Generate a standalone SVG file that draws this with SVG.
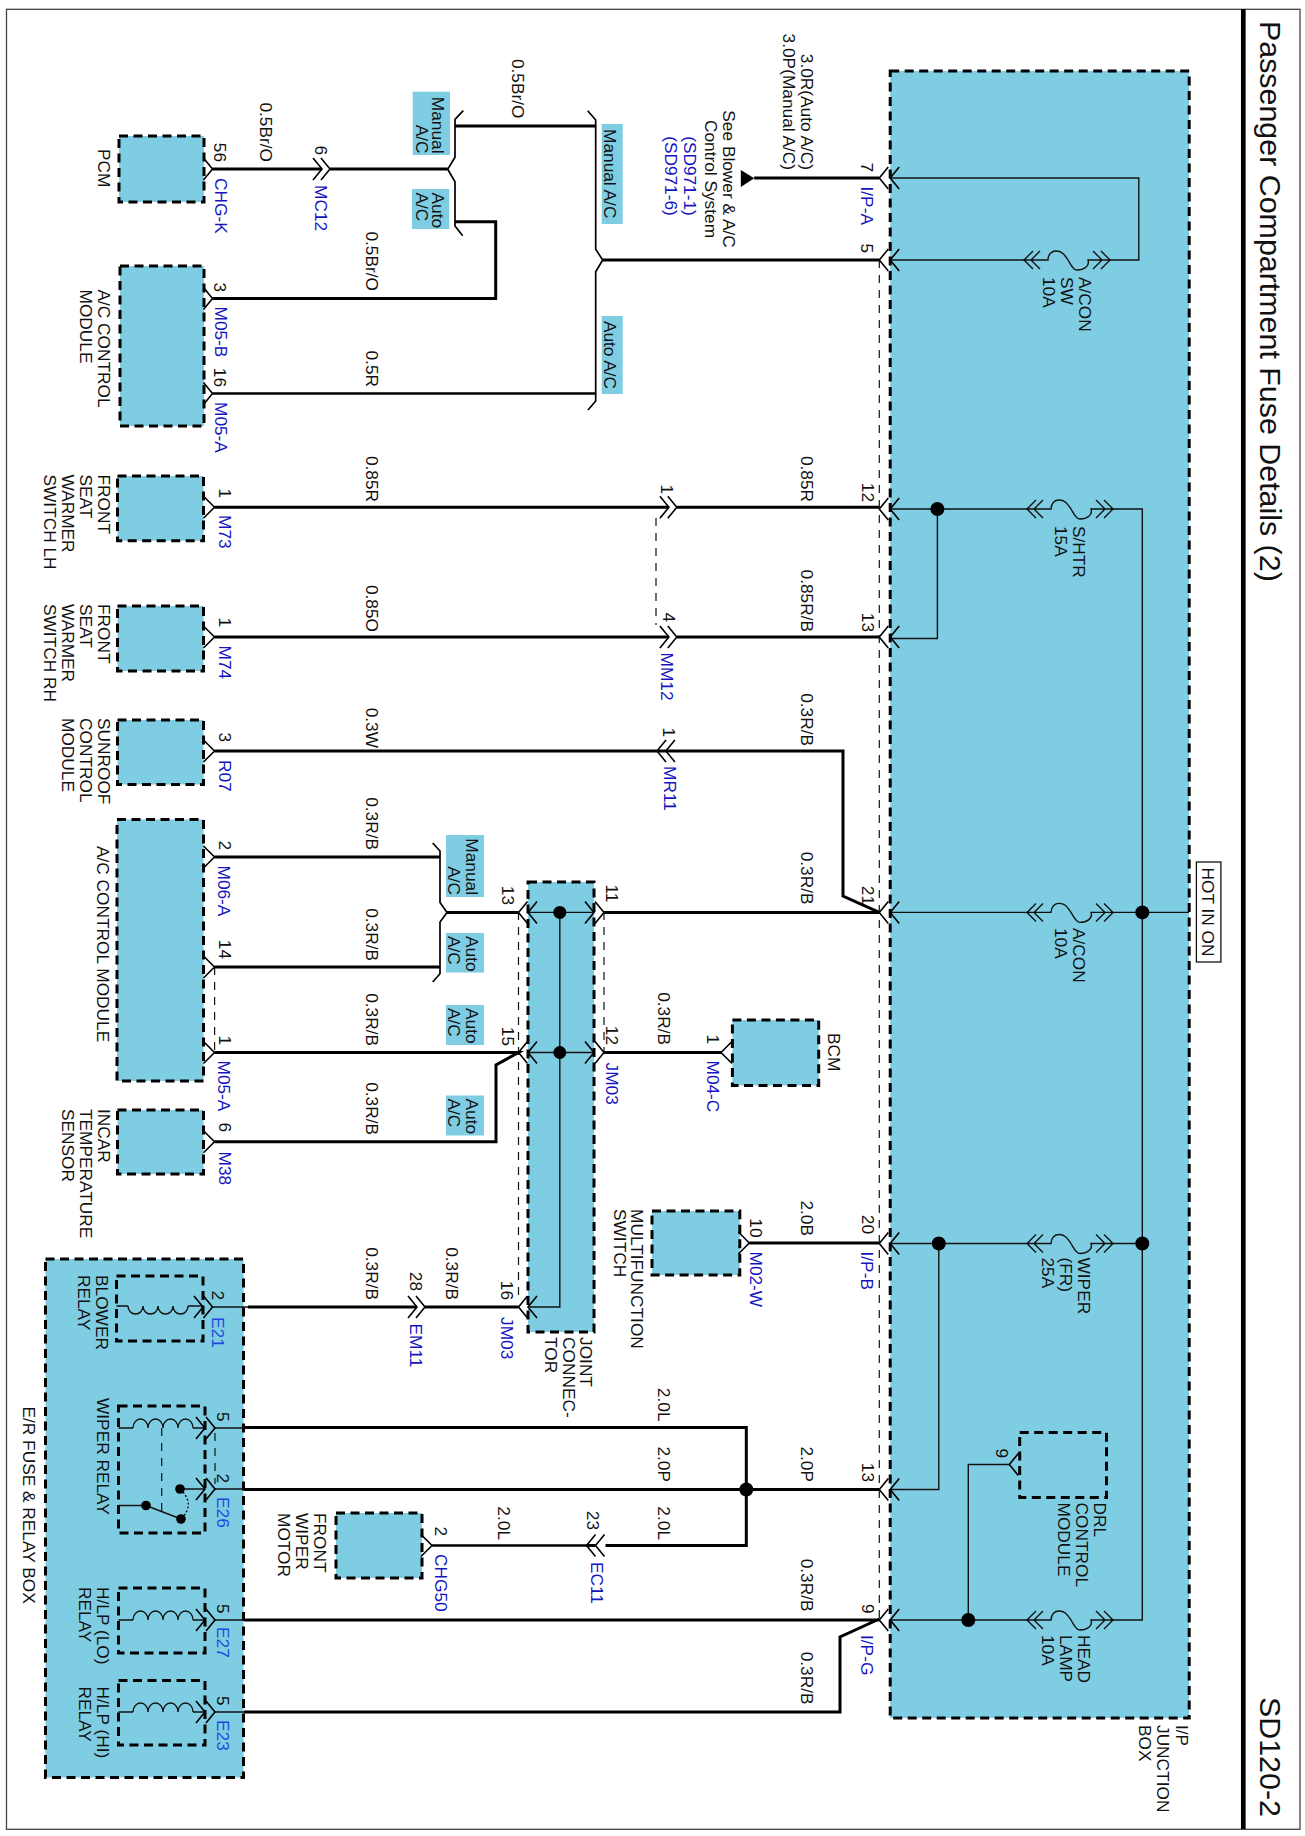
<svg xmlns="http://www.w3.org/2000/svg" width="1305" height="1836" viewBox="0 0 1305 1836">
<style>
text{font-family:"Liberation Sans",Arial,sans-serif;font-size:17.3px;fill:#111}
.b{fill:#1414c0}.e{text-anchor:end}.m{text-anchor:middle}
.bx{fill:#7fcde3;stroke:#000;stroke-width:3;stroke-dasharray:9 5.5}
.in{fill:none;stroke:#000;stroke-width:3;stroke-dasharray:9 5.5}
.lb{fill:#7fcde3}
.w{fill:none;stroke:#000;stroke-width:3}
.n{fill:none;stroke:#111;stroke-width:1.4}
.br{fill:none;stroke:#000;stroke-width:1.7}
.d{fill:none;stroke:#111;stroke-width:1.2;stroke-dasharray:8 7}
.c{fill:none;stroke:#000;stroke-width:1.6}
</style>
<defs>
<path id="r" class="c" d="M-9,-11L0,0L-9,11"/>
<path id="r2" class="c" d="M-11,-11L0,0L-11,11"/>
<path id="l" class="c" d="M9,-11L0,0L9,11"/>
<path id="l2" class="c" d="M11,-11L0,0L11,11"/>
<path id="f" class="n" d="M9,-9L0,0L9,9M16,-9L7,0L16,9M0,0H24C24,-6 28,-9 32,-9C39,-9 41,-4 44,0C47,5 49,10 53,10C60,10 66,6 64,0H86M69,-9L78,0L69,9M77,-9L86,0L77,9"/>
<path id="cu" class="n" d="M0,0a7.5,9 0 0 1 15,0a7.5,9 0 0 1 15,0a7.5,9 0 0 1 15,0a7.5,9 0 0 1 15,0"/>
<path id="cd" class="n" d="M0,0a7.5,8 0 0 0 15,0a7.5,8 0 0 0 15,0a7.5,8 0 0 0 15,0a7.5,8 0 0 0 15,0"/>
</defs>
<rect width="1305" height="1836" fill="#fff"/>
<g id="frame">
<rect x="6.5" y="9.3" width="1293.5" height="1820" fill="none" stroke="#444" stroke-width="1.3"/>
<path d="M1243.3,9V1829" stroke="#000" stroke-width="4.7" fill="none"/>
<text transform="translate(1259.5 21) rotate(90)" style="font-size:30.4px">Passenger Compartment Fuse Details (2)</text>
<text transform="translate(1259.5 1697) rotate(90)" style="font-size:30.4px">SD120-2</text>
</g>

<g id="ip-junction-box">
<rect class="bx" x="890.2" y="71" width="299" height="1647"/>
<text transform="translate(1175.5 1725) rotate(90)">I/P</text>
<text transform="translate(1157.2 1725) rotate(90)">JUNCTION</text>
<text transform="translate(1139.3 1725) rotate(90)">BOX</text>
</g>
<g id="er-box">
<rect class="bx" x="45.5" y="1259" width="198" height="518.5"/>
<text transform="translate(23 1406.5) rotate(90)">E/R FUSE &amp; RELAY BOX</text>
</g>
<g id="pcm"><rect class="bx" x="119" y="136" width="85" height="66"/>
<text transform="translate(97.6 149) rotate(90)">PCM</text></g>
<g id="ac-module-1"><rect class="bx" x="120" y="266" width="84" height="160"/>
<text transform="translate(97.6 289.5) rotate(90)">A/C CONTROL</text>
<text transform="translate(79.5 289.5) rotate(90)">MODULE</text></g>
<g id="seat-lh"><rect class="bx" x="117.5" y="476" width="86" height="64.7"/>
<text transform="translate(97.7 474.5) rotate(90)">FRONT</text><text transform="translate(79.7 474.5) rotate(90)">SEAT</text><text transform="translate(61.7 474.5) rotate(90)">WARMER</text><text transform="translate(43.7 474.5) rotate(90)">SWITCH LH</text></g>
<g id="seat-rh"><rect class="bx" x="117.5" y="606" width="86" height="65"/>
<text transform="translate(97.7 604) rotate(90)">FRONT</text><text transform="translate(79.7 604) rotate(90)">SEAT</text><text transform="translate(61.7 604) rotate(90)">WARMER</text><text transform="translate(43.7 604) rotate(90)">SWITCH RH</text></g>
<g id="sunroof"><rect class="bx" x="117.5" y="720" width="86" height="64.5"/>
<text transform="translate(97.7 718) rotate(90)">SUNROOF</text><text transform="translate(79.7 718) rotate(90)">CONTROL</text><text transform="translate(61.7 718) rotate(90)">MODULE</text></g>
<g id="ac-module-2"><rect class="bx" x="117" y="819.5" width="86.5" height="261.5"/>
<text transform="translate(97 846) rotate(90)">A/C CONTROL MODULE</text></g>
<g id="incar"><rect class="bx" x="117.5" y="1110" width="86" height="64"/>
<text transform="translate(97.7 1109) rotate(90)">INCAR</text><text transform="translate(79.7 1109) rotate(90)">TEMPERATURE</text><text transform="translate(61.7 1109) rotate(90)">SENSOR</text></g>
<g id="joint"><rect class="bx" x="528" y="882" width="66" height="450"/>
<text transform="translate(580 1337) rotate(90)">JOINT</text><text transform="translate(562.5 1337) rotate(90)">CONNEC-</text><text transform="translate(545 1337) rotate(90)">TOR</text></g>
<g id="bcm"><rect class="bx" x="732.4" y="1020" width="86.3" height="65.5"/>
<text transform="translate(827.7 1033) rotate(90)">BCM</text></g>
<g id="multifunction"><rect class="bx" x="652" y="1211" width="87.8" height="64"/>
<text transform="translate(631 1209) rotate(90)">MULTIFUNCTION</text><text transform="translate(614 1209) rotate(90)">SWITCH</text></g>
<g id="wiper-motor"><rect class="bx" x="336" y="1513" width="86" height="65"/>
<text transform="translate(313.5 1513) rotate(90)">FRONT</text><text transform="translate(295.5 1513) rotate(90)">WIPER</text><text transform="translate(277.5 1513) rotate(90)">MOTOR</text></g>
<g id="drl"><rect class="in" x="1019.7" y="1432.5" width="86.8" height="65"/>
<text transform="translate(1093.6 1502.5) rotate(90)">DRL</text><text transform="translate(1075.8 1502.5) rotate(90)">CONTROL</text><text transform="translate(1058 1502.5) rotate(90)">MODULE</text></g>
<g id="blower-relay"><rect class="in" x="116.5" y="1276" width="86.5" height="65"/>
<text transform="translate(96 1275) rotate(90)">BLOWER</text><text transform="translate(78 1275) rotate(90)">RELAY</text>
<path class="n" d="M116.5,1306H128M188,1306H203"/><use href="#cd" x="128" y="1306"/></g>
<g id="wiper-relay"><rect class="in" x="118.5" y="1406" width="86.5" height="127"/>
<text transform="translate(96.5 1398) rotate(90)">WIPER RELAY</text>
<path class="n" d="M118.5,1428H133M193,1428H205"/><use href="#cu" x="133" y="1428"/>
<path class="d" d="M161.7,1428V1511"/>
<path class="n" d="M180,1489H205M118.5,1505.5H146L181,1519"/>
<path d="M180,1489Q196,1504 181,1519" fill="none" stroke="#000" stroke-width="1.3" stroke-dasharray="2 2"/>
<circle cx="180" cy="1489" r="4.8"/><circle cx="146" cy="1505.5" r="4.8"/><circle cx="181" cy="1519" r="4.8"/></g>
<g id="hlp-lo-relay"><rect class="in" x="118.5" y="1588" width="86.5" height="65"/>
<text transform="translate(97 1587) rotate(90)">H/LP (LO)</text><text transform="translate(79 1587) rotate(90)">RELAY</text>
<path class="n" d="M118.5,1620H133M193,1620H205"/><use href="#cu" x="133" y="1620"/></g>
<g id="hlp-hi-relay"><rect class="in" x="118.5" y="1680.5" width="86.5" height="64.5"/>
<text transform="translate(97 1686.5) rotate(90)">H/LP (HI)</text><text transform="translate(79 1686.5) rotate(90)">RELAY</text>
<path class="n" d="M118.5,1712H133M193,1712H205"/><use href="#cu" x="133" y="1712"/></g>

<g id="tag-labels">
<rect class="lb" x="412.7" y="91.7" width="37.3" height="63.3"/>
<text class="e" transform="translate(432 153.5) rotate(90)">Manual</text><text class="e" transform="translate(415.5 153.5) rotate(90)">A/C</text>
<rect class="lb" x="412" y="189" width="37.3" height="40"/>
<text transform="translate(432 192.5) rotate(90)">Auto</text><text transform="translate(415.5 192.5) rotate(90)">A/C</text>
<rect class="lb" x="601.7" y="124" width="21" height="100"/>
<text class="m" transform="translate(604.3 173.7) rotate(90)">Manual A/C</text>
<rect class="lb" x="601.7" y="316" width="21" height="78"/>
<text class="m" transform="translate(604.3 355) rotate(90)">Auto A/C</text>
<rect class="lb" x="446" y="835" width="38" height="62"/>
<text class="e" transform="translate(465.5 895) rotate(90)">Manual</text><text class="e" transform="translate(448 895) rotate(90)">A/C</text>
<rect class="lb" x="446" y="933" width="38" height="39.5"/>
<text transform="translate(465.5 936) rotate(90)">Auto</text><text transform="translate(448 936) rotate(90)">A/C</text>
<rect class="lb" x="446" y="1005" width="38" height="40"/>
<text transform="translate(465.5 1008) rotate(90)">Auto</text><text transform="translate(448 1008) rotate(90)">A/C</text>
<rect class="lb" x="446" y="1095.5" width="38" height="40"/>
<text transform="translate(465.5 1098.5) rotate(90)">Auto</text><text transform="translate(448 1098.5) rotate(90)">A/C</text>
</g>

<g id="connectors">
<path class="w" d="M212.5,169H322M330,169H447.7"/>
<path class="br" d="M463.3,110.7L455,119.3V157.3L447.7,169.3L455,181.7V226L462.7,235.7"/>
<path class="w" d="M455,126H595.7"/>
<path class="w" d="M455,221.7H495.7V298.5H212.5"/>
<path class="w" d="M212.5,393.5H595.7" style="stroke-width:2.6"/>
<path class="br" d="M587.7,110.7L595.7,120V249.3L602.7,260L595.7,271.7V401L588,410"/>
<path class="w" d="M602.7,260H879.3"/>
<polygon points="740.8,170 754.2,178.3 740.8,187"/>
<path class="w" d="M754.2,178H879.3"/>
<path class="w" d="M214.5,507.3H668.9M676.8,507.3H879.3"/>
<path class="w" d="M214.5,637H668.9M676.8,637H879.3"/>
<path class="w" d="M214.5,751H843V896L879.3,912.4"/>
<path class="w" d="M214.5,857H440M214.5,967H440"/>
<path class="br" d="M432.7,843L440,851V902.5L447,912.4L440,922V973.7L432.7,982"/>
<path class="w" d="M447,912.4H518.5M604,912.4H879.3"/>
<path class="w" d="M214.5,1052.5H518.5L496,1065V1141.7H214.5"/>
<path class="w" d="M604,1052.5H721"/>
<path class="w" d="M749.3,1243H879.3"/>
<path class="w" d="M248,1307H417M425,1307H518.5"/>
<path class="n" d="M212.5,1307H248M215,1428H244M215,1489H244M215,1620H244M215,1712H244"/>
<path class="w" d="M244,1427.5H746.3V1545.5H605.5M595.5,1545.5H586"/>
<path class="w" d="M244,1489.5H879.3"/>
<path class="w" d="M586,1545.5H432" style="stroke-width:2.6"/>
<path class="w" d="M244,1620H879.3M244,1712H840V1637L879.3,1619"/>
<circle cx="746.3" cy="1489.5" r="7"/>
<path class="n" d="M890.2,178H1138.8V260H1110M1024,260H890.2"/>
<use href="#f" x="1024" y="260"/>
<path class="n" d="M890.2,509H1027M1113,509H1142.3V1620H1113M1027,1620H890.2"/>
<use href="#f" x="1027" y="509"/>
<use href="#f" x="1027" y="1620"/>
<path class="n" d="M937.4,509V638.5H890.2"/>
<circle cx="937.4" cy="509" r="7"/>
<path class="n" d="M890.2,912.4H1027M1113,912.4H1189"/>
<use href="#f" x="1027" y="912.4"/>
<circle cx="1142.3" cy="912.4" r="7"/>
<path class="n" d="M890.2,1243.5H1027M1113,1243.5H1142.3"/>
<use href="#f" x="1027" y="1243.5"/>
<circle cx="1142.3" cy="1243.5" r="7"/>
<path class="n" d="M938.8,1243.5V1489.5H890.2"/>
<circle cx="938.8" cy="1243.5" r="7"/>
<path class="n" d="M968.3,1620V1464.5H1009.3"/>
<circle cx="968.3" cy="1620" r="7"/>
<use href="#l" x="1009.3" y="1464.5"/>
<path class="n" d="M528,912.4H594M528,1052.5H594M559.8,912.4V1307H528"/>
<circle cx="559.8" cy="912.4" r="6.5"/><circle cx="559.8" cy="1052.5" r="6.5"/>
<path class="d" d="M879.3,260V1619"/>
<path class="d" d="M656,518V625"/>
<path class="d" d="M214.6,967V1052"/>
<path class="d" d="M518.5,912V1300"/>
<path class="d" d="M604,912V1052"/>
<path class="d" d="M215,1433V1484"/>
<g id="terminals">
<use href="#r" x="212.5" y="169"/><use href="#r" x="212.5" y="298.5"/><use href="#r" x="212.5" y="393.5"/>
<use href="#r2" x="214.5" y="507.3"/><use href="#r2" x="214.5" y="637"/><use href="#r2" x="214.5" y="751"/><use href="#r2" x="214.5" y="857"/><use href="#r2" x="214.5" y="967"/><use href="#r2" x="214.5" y="1052.5"/><use href="#r2" x="214.5" y="1141.7"/>
<use href="#r" x="322" y="169"/><use href="#r" x="330" y="169"/>
<use href="#r" x="668.9" y="507.3"/><use href="#r" x="676.8" y="507.3"/><use href="#r" x="668.9" y="637"/><use href="#r" x="676.8" y="637"/>
<use href="#l" x="657" y="751"/><use href="#l" x="665.9" y="751"/>
<use href="#l" x="879.3" y="178"/><use href="#l" x="890.2" y="178"/><use href="#l" x="879.3" y="260"/><use href="#l" x="890.2" y="260"/><use href="#l" x="879.3" y="509"/><use href="#l" x="890.2" y="509"/><use href="#l" x="879.3" y="637"/><use href="#l" x="890.2" y="637"/><use href="#l" x="879.3" y="912.4"/><use href="#l" x="890.2" y="912.4"/><use href="#l" x="879.3" y="1243.5"/><use href="#l" x="890.2" y="1243.5"/><use href="#l" x="879.3" y="1489.5"/><use href="#l" x="890.2" y="1489.5"/><use href="#l" x="879.3" y="1620"/><use href="#l" x="890.2" y="1620"/>
<use href="#l" x="518.5" y="912.4"/><use href="#l" x="528" y="912.4"/><use href="#r" x="594" y="912.4"/><use href="#r" x="604" y="912.4"/>
<use href="#l" x="518.5" y="1052.5"/><use href="#l" x="528" y="1052.5"/><use href="#r" x="594" y="1052.5"/><use href="#r" x="604" y="1052.5"/>
<use href="#l" x="518.5" y="1307"/><use href="#l" x="528" y="1307"/>
<use href="#l2" x="721" y="1052.5"/><use href="#r2" x="749.3" y="1243"/>
<use href="#r" x="417" y="1307"/><use href="#r" x="425" y="1307"/>
<use href="#r" x="203" y="1307"/><use href="#r" x="212.5" y="1307"/>
<use href="#r" x="205" y="1428"/><use href="#r" x="215" y="1428"/><use href="#r" x="205" y="1489"/><use href="#r" x="215" y="1489"/><use href="#r" x="205" y="1620"/><use href="#r" x="215" y="1620"/><use href="#r" x="205" y="1712"/><use href="#r" x="215" y="1712"/>
<use href="#l" x="586.5" y="1545.5"/><use href="#l" x="595.5" y="1545.5"/><use href="#r2" x="432" y="1545.5"/>
</g>
</g>

<g id="wire-labels">
<text class="e" transform="translate(512 118.5) rotate(90)">0.5Br/O</text>
<text class="e" transform="translate(260 162) rotate(90)">0.5Br/O</text>
<text class="e" transform="translate(366 291) rotate(90)">0.5Br/O</text>
<text class="e" transform="translate(366 387) rotate(90)">0.5R</text>
<text class="e" transform="translate(366 502) rotate(90)">0.85R</text>
<text class="e" transform="translate(366 632) rotate(90)">0.85O</text>
<text class="e" transform="translate(366 748) rotate(90)">0.3W</text>
<text class="e" transform="translate(366 850) rotate(90)">0.3R/B</text>
<text class="e" transform="translate(366 961) rotate(90)">0.3R/B</text>
<text class="e" transform="translate(366 1046) rotate(90)">0.3R/B</text>
<text class="e" transform="translate(366 1135) rotate(90)">0.3R/B</text>
<text class="e" transform="translate(366 1300) rotate(90)">0.3R/B</text>
<text class="e" transform="translate(446 1300) rotate(90)">0.3R/B</text>
<text class="e" transform="translate(498 1540) rotate(90)">2.0L</text>
<text class="e" transform="translate(657.5 1421.5) rotate(90)">2.0L</text>
<text class="e" transform="translate(657.5 1482) rotate(90)">2.0P</text>
<text class="e" transform="translate(657.5 1540) rotate(90)">2.0L</text>
<text class="e" transform="translate(657.5 1045) rotate(90)">0.3R/B</text>
<text class="e" transform="translate(800.9 170) rotate(90)">3.0R(Auto A/C)</text>
<text class="e" transform="translate(783 170) rotate(90)">3.0P(Manual A/C)</text>
<text class="m" transform="translate(722.5 179) rotate(90)">See Blower &amp; A/C</text>
<text class="m" transform="translate(704.6 179) rotate(90)">Control System</text>
<text class="m b" transform="translate(684.2 176) rotate(90)">(SD971-1)</text>
<text class="m b" transform="translate(665.4 176) rotate(90)">(SD971-6)</text>
<text class="e" transform="translate(800.9 502) rotate(90)">0.85R</text>
<text class="e" transform="translate(800.9 632) rotate(90)">0.85R/B</text>
<text class="e" transform="translate(800.9 746) rotate(90)">0.3R/B</text>
<text class="e" transform="translate(800.9 904.5) rotate(90)">0.3R/B</text>
<text class="e" transform="translate(800.9 1236) rotate(90)">2.0B</text>
<text class="e" transform="translate(800.9 1482) rotate(90)">2.0P</text>
<text class="e" transform="translate(800.9 1611.5) rotate(90)">0.3R/B</text>
<text class="e" transform="translate(800.9 1704.5) rotate(90)">0.3R/B</text>
</g>

<g id="pins">
<text class="e" transform="translate(213.5 162) rotate(90)">56</text><text class="e" transform="translate(314.5 155) rotate(90)">6</text>
<text class="e" transform="translate(213.5 292) rotate(90)">3</text><text class="e" transform="translate(213.5 387) rotate(90)">16</text>
<text class="e" transform="translate(218.5 498) rotate(90)">1</text><text class="e" transform="translate(218.5 627) rotate(90)">1</text>
<text class="e" transform="translate(218.5 742) rotate(90)">3</text><text class="e" transform="translate(218.5 850) rotate(90)">2</text>
<text class="e" transform="translate(218.5 959) rotate(90)">14</text><text class="e" transform="translate(218.5 1045) rotate(90)">1</text>
<text class="e" transform="translate(218.5 1132) rotate(90)">6</text>
<text class="e" transform="translate(660.5 494) rotate(90)">1</text><text class="e" transform="translate(662.5 622) rotate(90)">4</text><text class="e" transform="translate(662.5 737) rotate(90)">1</text>
<text class="e" transform="translate(860.9 172) rotate(90)">7</text><text class="e" transform="translate(860.9 253) rotate(90)">5</text>
<text class="e" transform="translate(861.9 502) rotate(90)">12</text><text class="e" transform="translate(861.9 632) rotate(90)">13</text>
<text class="e" transform="translate(861.9 905) rotate(90)">21</text><text class="e" transform="translate(861.9 1234) rotate(90)">20</text>
<text class="e" transform="translate(861.9 1482) rotate(90)">13</text><text class="e" transform="translate(861.9 1613.5) rotate(90)">9</text>
<text class="e" transform="translate(501.5 905) rotate(90)">13</text><text class="e" transform="translate(501.5 1046) rotate(90)">15</text>
<text class="e" transform="translate(606 902.5) rotate(90)">11</text><text class="e" transform="translate(606 1045) rotate(90)">12</text>
<text class="e" transform="translate(706.6 1044) rotate(90)">1</text><text class="e" transform="translate(750.2 1237.5) rotate(90)">10</text>
<text class="e" transform="translate(410 1291) rotate(90)">28</text><text class="e" transform="translate(501 1300) rotate(90)">16</text>
<text class="e" transform="translate(211.5 1300) rotate(90)">2</text><text class="e" transform="translate(217 1421.5) rotate(90)">5</text>
<text class="e" transform="translate(217 1483) rotate(90)">2</text><text class="e" transform="translate(217 1613.5) rotate(90)">5</text>
<text class="e" transform="translate(217 1705.5) rotate(90)">5</text>
<text class="e" transform="translate(435 1536) rotate(90)">2</text><text class="e" transform="translate(587 1530) rotate(90)">23</text>
<text class="e" transform="translate(995.9 1458) rotate(90)">9</text>
<text class="b" transform="translate(214.5 178) rotate(90)">CHG-K</text>
<text class="b" transform="translate(314.5 185) rotate(90)">MC12</text>
<text class="b" transform="translate(214.5 306.5) rotate(90)">M05-B</text>
<text class="b" transform="translate(214.5 402) rotate(90)">M05-A</text>
<text class="b" transform="translate(219 515) rotate(90)">M73</text>
<text class="b" transform="translate(219 645.5) rotate(90)">M74</text>
<text class="b" transform="translate(219 760) rotate(90)">R07</text>
<text class="b" transform="translate(218 865.5) rotate(90)">M06-A</text>
<text class="b" transform="translate(218 1060.5) rotate(90)">M05-A</text>
<text class="b" transform="translate(219 1151.5) rotate(90)">M38</text>
<text class="b" transform="translate(660.5 652.5) rotate(90)">MM12</text>
<text class="b" transform="translate(663.5 766) rotate(90)">MR11</text>
<text class="b" transform="translate(606 1062.5) rotate(90)">JM03</text>
<text class="b" transform="translate(706.6 1060.5) rotate(90)">M04-C</text>
<text class="b" transform="translate(750.2 1251.5) rotate(90)">M02-W</text>
<text class="b" transform="translate(860.9 186.5) rotate(90)">I/P-A</text>
<text class="b" transform="translate(860.9 1251.5) rotate(90)">I/P-B</text>
<text class="b" transform="translate(860.9 1635) rotate(90)">I/P-G</text>
<text class="b" transform="translate(410 1323.5) rotate(90)">EM11</text>
<text class="b" transform="translate(501 1317) rotate(90)">JM03</text>
<text class="b" transform="translate(591 1562) rotate(90)">EC11</text>
<text class="b" transform="translate(435 1554) rotate(90)">CHG50</text>
<text style="fill:#1a4be0" transform="translate(211.5 1317) rotate(90)">E21</text>
<text style="fill:#1a4be0" transform="translate(217 1497) rotate(90)">E26</text>
<text style="fill:#1a4be0" transform="translate(217 1627) rotate(90)">E27</text>
<text style="fill:#1a4be0" transform="translate(217 1720) rotate(90)">E23</text>
</g>

<g id="fuses">
<text transform="translate(1078.8 277) rotate(90)">A/CON</text><text transform="translate(1061 277) rotate(90)">SW</text><text transform="translate(1043 277) rotate(90)">10A</text>
<text transform="translate(1072.8 526) rotate(90)">S/HTR</text><text transform="translate(1055 526) rotate(90)">15A</text>
<text transform="translate(1072.8 928) rotate(90)">A/CON</text><text transform="translate(1055 928) rotate(90)">10A</text>
<text transform="translate(1077.8 1257.5) rotate(90)">WIPER</text><text transform="translate(1060 1257.5) rotate(90)">(FR)</text><text transform="translate(1042 1257.5) rotate(90)">25A</text>
<text transform="translate(1077.8 1635) rotate(90)">HEAD</text><text transform="translate(1060 1635) rotate(90)">LAMP</text><text transform="translate(1042 1635) rotate(90)">10A</text>
</g>

<g id="hot-in-on">
<rect x="1196.4" y="862" width="24.5" height="100" fill="#fff" stroke="#111" stroke-width="1.3"/>
<text class="m" transform="translate(1202.3 912) rotate(90)">HOT IN ON</text>
</g>
</svg>
